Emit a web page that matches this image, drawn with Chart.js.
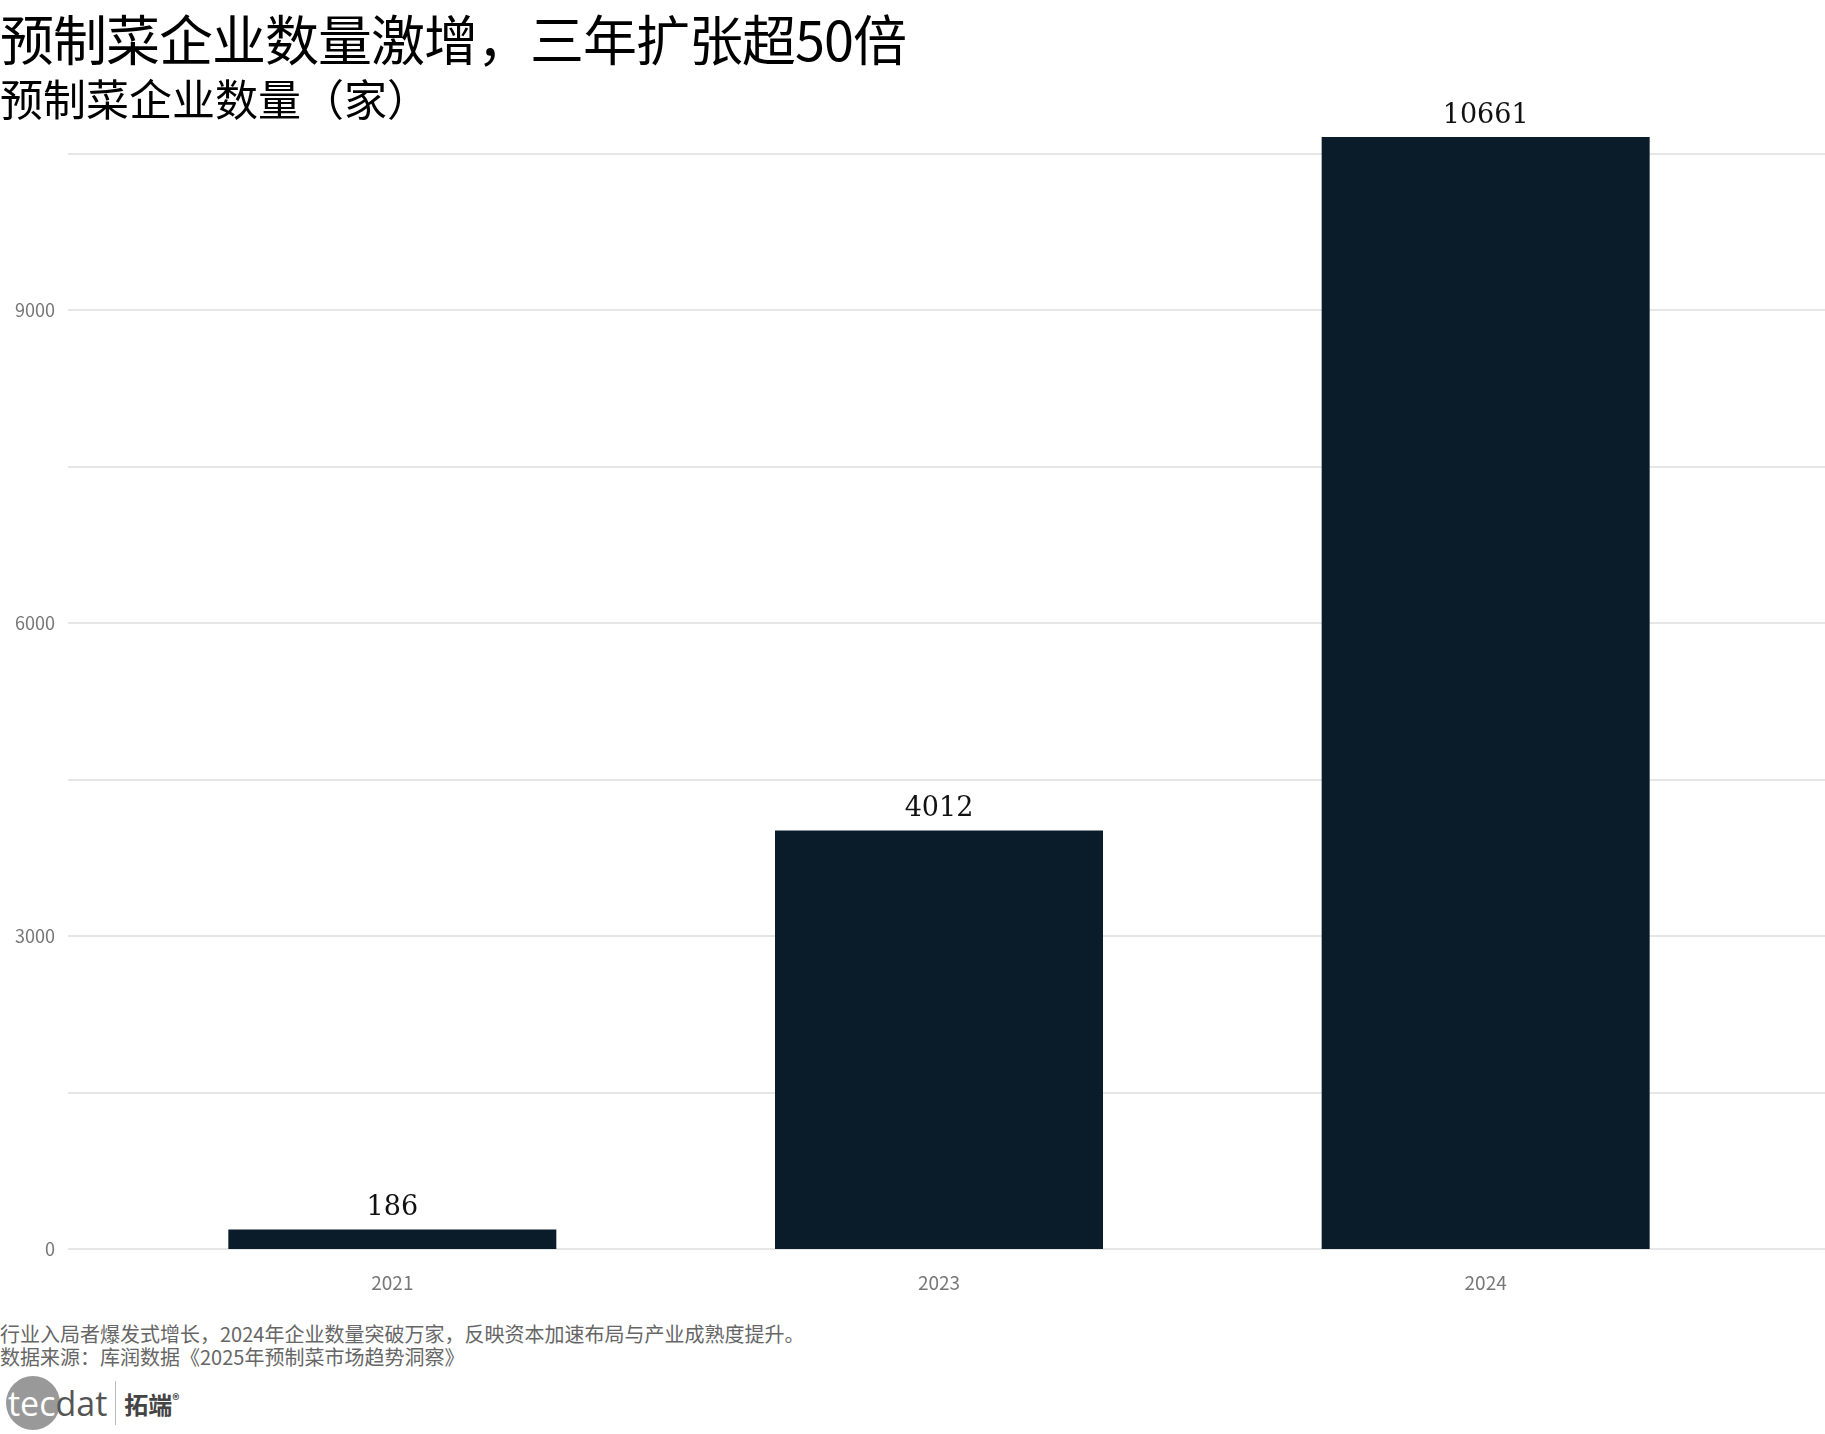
<!DOCTYPE html>
<html lang="zh">
<head>
<meta charset="utf-8" />
<title>预制菜企业数量</title>
<style>
  body { margin: 0; background: #fff; font-family: "Noto Sans CJK SC", sans-serif; }
  .wrap { position: relative; width: 1825px; height: 1434px; overflow: hidden; }
  #c { position: absolute; left: 0; top: 0; }
  .title { position: absolute; left: 0; top: -2px; font-size: 54px; color: #000; letter-spacing: -1px; }
  .sub { position: absolute; left: 0; top: 66px; font-size: 43px; color: #000; }
  .note { position: absolute; left: 0; top: 1322px; font-size: 20px; color: #666; line-height: 23px; }
  .logo { position: absolute; left: 4px; top: 1376px; height: 54px; display: flex; align-items: center; }
  .circ { width: 54px; height: 54px; border-radius: 50%; background: #999; position: absolute; left: 2px; top: 0; }
  .tec { position: relative; font: 34px "Open Sans", sans-serif; color: #fff; margin-left: 4px; }
  .tec span { color: #555; }
  .bar { width: 1px; height: 44px; background: #bbb; margin: 0 8px 0 8px; }
  .tz { font-size: 24px; font-weight: bold; color: #444; }
</style>
</head>
<body>
<div class="wrap">
  <canvas id="c" width="1825" height="1314"></canvas>
  <div class="title">预制菜企业数量激增，三年扩张超50倍</div>
  <div class="sub">预制菜企业数量（家）</div>
  <div class="note">行业入局者爆发式增长，2024年企业数量突破万家，反映资本加速布局与产业成熟度提升。<br>数据来源：库润数据《2025年预制菜市场趋势洞察》</div>
  <div class="logo"><div class="circ"></div><div class="tec">tec<span>dat</span></div><div class="bar"></div><div class="tz">拓端<sup style="font-size:14px">®</sup></div></div>
</div>
<script src="https://cdn.jsdelivr.net/npm/chart.js@4.4.4/dist/chart.umd.min.js"></script>
<script>
  const years = ['2021', '2023', '2024'];
  const companies = [186, 4012, 10661];
  const gridValues = [0, 1500, 3000, 4500, 6000, 7500, 9000, 10500];
  const tickValues = [0, 3000, 6000, 9000];

  // 网格线横跨整个宽度，数值标签画在柱顶
  const extras = {
    id: 'extras',
    beforeDatasetsDraw(chart) {
      const ctx = chart.ctx, y = chart.scales.y;
      ctx.save();
      ctx.strokeStyle = '#e6e6e6';
      ctx.lineWidth = 2;
      gridValues.forEach(v => {
        const py = Math.round(y.getPixelForValue(v));
        ctx.beginPath(); ctx.moveTo(68, py); ctx.lineTo(1825, py); ctx.stroke();
      });
      ctx.fillStyle = '#777';
      ctx.font = '18px "Noto Sans CJK SC", sans-serif';
      ctx.textAlign = 'right';
      ctx.textBaseline = 'middle';
      tickValues.forEach(v => ctx.fillText(String(v), 55, y.getPixelForValue(v)));
      ctx.restore();
    },
    afterDatasetsDraw(chart) {
      const ctx = chart.ctx;
      ctx.save();
      ctx.fillStyle = '#111';
      ctx.font = '27px "DejaVu Serif", serif';
      ctx.textAlign = 'center';
      ctx.textBaseline = 'bottom';
      chart.getDatasetMeta(0).data.forEach((bar, i) => {
        ctx.fillText(String(companies[i]), bar.x, bar.y - 8);
      });
      ctx.restore();
    }
  };

  new Chart(document.getElementById('c'), {
    type: 'bar',
    data: {
      labels: years,
      datasets: [{
        data: companies,
        backgroundColor: '#0a1c2a',
        barPercentage: 0.6,
        categoryPercentage: 1
      }]
    },
    options: {
      responsive: false,
      animation: false,
      layout: { padding: { left: 119, right: 66, top: 137, bottom: 0 } },
      plugins: { legend: { display: false }, tooltip: { enabled: false } },
      scales: {
        x: {
          grid: { display: false },
          border: { display: false },
          ticks: { color: '#777', font: { size: 19, family: '"Noto Sans CJK SC", sans-serif' }, padding: 14 },
          afterFit(s) { s.height = 65; }
        },
        y: { display: false, min: 0, max: 10661 }
      }
    },
    plugins: [extras]
  });
</script>
</body>
</html>
